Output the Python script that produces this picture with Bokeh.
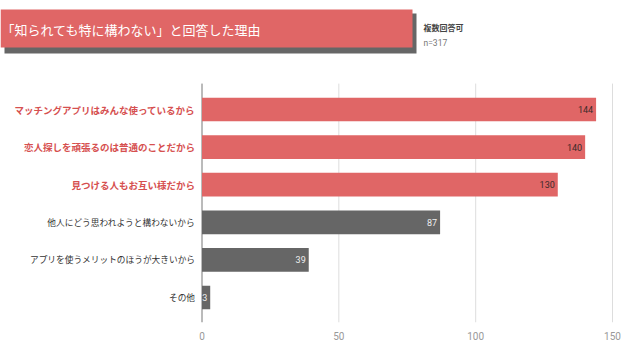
from bokeh.plotting import figure
from bokeh.models import ColumnDataSource, Label, BoxAnnotation, FixedTicker
from bokeh.core.properties import value
from bokeh.embed import file_html
from bokeh.resources import INLINE

categories = [
    "マッチングアプリはみんな使っているから",
    "恋人探しを頑張るのは普通のことだから",
    "見つける人もお互い様だから",
    "他人にどう思われようと構わないから",
    "アプリを使うメリットのほうが大きいから",
    "その他",
]
counts = [144, 140, 130, 87, 39, 3]
highlight = [True, True, True, False, False, False]
ticks = [0, 50, 100, 150]
title_text = "「知られても特に構わない」と回答した理由"
note1 = "複数回答可"
note2 = "n=317"

RED = "#e06666"
GRAY = "#666666"
FONT = "Noto Sans CJK JP"

n = len(categories)
ys = [n - 1 - i for i in range(n)]
src = ColumnDataSource(dict(
    y=ys,
    v=counts,
    cat=categories,
    label=[str(c) for c in counts],
    color=[RED if h else GRAY for h in highlight],
    catcolor=["#d65050" if h else "#333333" for h in highlight],
    catstyle=["bold" if h else "normal" for h in highlight],
    catsize=["9.5px" if h else "8.7px" for h in highlight],
    valcolor=["#3a2a2a" if h else "#eeeeee" for h in highlight],
))

Y0, Y1 = -0.665, 5.69
p = figure(width=624, height=344, output_backend="svg", toolbar_location=None,
           x_range=(-73.63, 153.65), y_range=(Y0, 7.9),
           y_axis_location=None,
           min_border_left=0, min_border_right=2, min_border_top=0, min_border_bottom=22)
p.outline_line_color = None
p.background_fill_color = "white"
p.border_fill_color = "white"

p.xaxis.ticker = FixedTicker(ticks=ticks)
p.xaxis.axis_line_color = None
p.xaxis.major_tick_line_color = None
p.xaxis.minor_tick_line_color = None
p.xaxis.major_label_text_color = "#999999"
p.xaxis.major_label_text_font_size = "10px"
p.xaxis.major_label_text_font = "Roboto"
p.xaxis.major_label_standoff = 3
p.xgrid.visible = False
p.ygrid.visible = False

# grid lines limited to the bar area
grid_src = ColumnDataSource(dict(
    x=ticks,
    color=["#777777"] + ["#dddddd"] * (len(ticks) - 1),
))
p.segment(x0="x", y0=Y0, x1="x", y1=Y1, line_color="color", line_width=1, source=grid_src)

# title banner
p.add_layout(BoxAnnotation(left=4, right=416, top=13, bottom=53,
                           left_units="canvas", right_units="canvas",
                           top_units="canvas", bottom_units="canvas",
                           fill_color=GRAY, fill_alpha=1, line_color=None, level="underlay"))
p.add_layout(BoxAnnotation(left=0, right=412, top=9, bottom=47,
                           left_units="canvas", right_units="canvas",
                           top_units="canvas", bottom_units="canvas",
                           fill_color=RED, fill_alpha=1, line_color=None, level="underlay"))

p.hbar(y="y", left=0, right="v", height=0.63, fill_color="color", line_color=None, source=src)

p.text(x="v", y="y", text="label", x_offset=-3, text_align="right", text_baseline="middle",
       text_color="valcolor", text_font_size="9px", text_font=value("Roboto"), source=src)
p.text(x=0, y="y", text="cat", x_offset=-7, text_align="right", text_baseline="middle",
       text_color="catcolor", text_font_style="catstyle", text_font_size="catsize",
       text_font=value(FONT), source=src)

p.add_layout(Label(x=1, y=322 - 29, x_units="screen", y_units="screen", text=title_text,
                   text_color="white", text_font_size="13px", text_font=FONT,
                   text_baseline="middle"))
p.add_layout(Label(x=423, y=322 - 27, x_units="screen", y_units="screen", text=note1,
                   text_color="#444444", text_font_size="8px", text_font=FONT,
                   text_font_style="bold", text_baseline="middle"))
p.add_layout(Label(x=423, y=322 - 42, x_units="screen", y_units="screen", text=note2,
                   text_color="#777777", text_font_size="8.5px", text_font="Roboto",
                   text_baseline="middle"))

open("out.html", "w").write(file_html(p, INLINE))
